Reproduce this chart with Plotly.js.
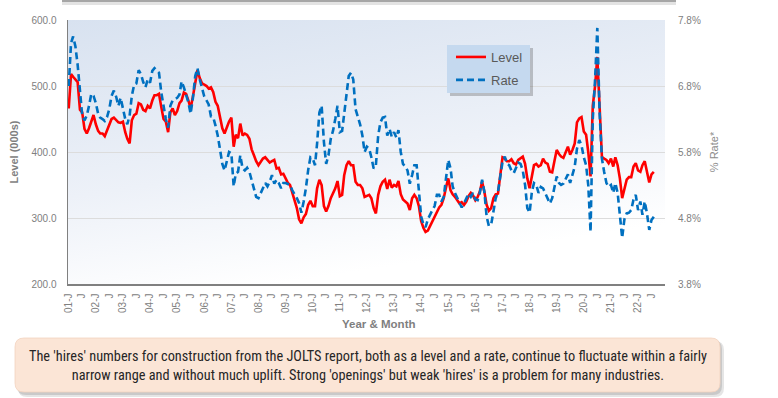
<!DOCTYPE html>
<html><head><meta charset="utf-8">
<script src="https://cdn.plot.ly/plotly-3.0.1.min.js"></script>
<style>html,body{margin:0;padding:0;background:#fff;}#chart{width:778px;height:398px;}</style>
</head><body><div id="chart"></div>
<script>
const startYear = 2001;
const levelValues = [
466,518,514,509,506,464,460,435,428,436,448,456,
442,432,428,428,424,432,442,450,452,448,445,444,
446,430,420,413,448,456,458,474,472,464,462,470,
466,478,486,486,488,468,450,446,430,460,466,456,
462,474,478,490,488,478,466,484,506,524,512,504,
502,500,496,498,491,476,470,452,436,428,438,446,
452,408,426,421,443,425,428,426,420,404,395,386,
380,385,390,392,388,384,386,388,375,376,366,367,
360,353,350,337,326,315,298,292,301,306,320,326,
318,318,345,358,350,318,310,318,330,337,345,356,
333,335,365,380,386,380,380,355,350,350,345,332,
334,335,330,315,307,335,348,355,358,344,358,346,
350,348,356,336,328,325,322,312,330,335,330,318,
295,285,279,281,288,294,302,310,316,320,330,346,
360,342,336,332,326,322,324,320,325,333,338,334,
327,332,340,355,340,320,311,315,330,336,337,365,
392,390,386,386,389,383,381,388,390,393,382,360,
345,362,380,382,378,380,390,384,382,370,369,386,
403,397,393,391,400,408,396,403,413,445,451,453,
431,426,400,363,470,500,544,470,393,390,388,383,
390,378,392,380,360,330,345,358,362,362,378,383,
372,370,380,386,370,354,366,370
];
const rateValues = [
6.80,7.45,7.55,7.40,7.12,6.72,6.36,6.28,6.35,6.50,6.68,6.65,
6.54,6.38,6.32,6.30,6.27,6.33,6.45,6.65,6.73,6.64,6.50,6.62,
6.45,6.30,6.22,6.35,6.65,6.82,6.84,7.04,6.98,6.86,6.78,6.90,
6.85,7.03,7.07,7.04,7.00,6.70,6.48,6.30,6.17,6.50,6.58,6.60,
6.62,6.67,6.87,6.78,6.68,6.55,6.38,6.62,6.95,7.07,6.90,6.75,
6.64,6.58,6.52,6.34,6.33,6.20,6.05,5.84,5.62,5.52,5.65,5.80,
5.78,5.28,5.47,5.50,5.75,5.55,5.52,5.56,5.50,5.38,5.22,5.12,
5.10,5.18,5.27,5.33,5.28,5.35,5.45,5.32,5.38,5.33,5.25,5.33,
5.33,5.32,5.30,5.22,5.17,5.10,5.03,4.88,5.05,5.25,5.53,5.72,
5.70,5.60,5.93,6.40,6.50,5.95,5.62,5.75,6.00,6.12,6.30,6.50,
6.10,6.12,6.38,6.70,6.95,7.00,6.90,6.45,6.33,6.22,6.05,5.80,
5.88,5.85,5.72,5.55,5.60,6.05,6.25,6.32,6.33,6.05,6.15,6.03,
6.10,6.02,6.13,5.80,5.62,5.58,5.52,5.32,5.45,5.60,5.60,5.20,
4.82,4.70,4.66,4.78,4.86,4.92,4.98,5.15,5.15,5.05,5.12,5.45,
5.68,5.55,5.28,5.18,5.10,5.02,4.96,5.02,5.10,5.17,5.12,5.18,
5.08,5.07,5.18,5.38,5.20,4.82,4.68,4.70,4.90,5.10,5.20,5.45,
5.65,5.73,5.62,5.60,5.52,5.48,5.55,5.64,5.62,5.52,5.30,4.95,
4.88,5.20,5.33,5.30,5.18,5.27,5.25,5.17,5.10,5.02,5.10,5.27,
5.43,5.33,5.30,5.32,5.40,5.46,5.33,5.45,5.58,5.85,5.98,5.90,
5.72,5.60,5.30,4.59,6.30,6.90,7.68,6.39,5.70,5.50,5.33,5.27,
5.30,5.18,5.33,5.18,4.88,4.50,4.78,4.87,4.88,4.92,5.08,5.15,
4.92,5.05,4.85,5.05,4.87,4.62,4.77,4.82
];
const tickLabels = [
'01-J','J','02-J','J','03-J','J','04-J','J','05-J','J','06-J','J',
'07-J','J','08-J','J','09-J','J','10-J','J','11-J','J','12-J','J',
'13-J','J','14-J','J','15-J','J','16-J','J','17-J','J','18-J','J',
'19-J','J','20-J','J','21-J','J','22-J','J'
];
const levelTicks = [200, 300, 400, 500, 600];
const rateTicks = [3.8, 4.8, 5.8, 6.8, 7.8];
const xTitle = 'Year & Month';
const caption = "The 'hires' numbers for construction from the JOLTS report, both as a level and a rate, continue to fluctuate within a fairly<br>narrow range and without much uplift. Strong 'openings' but weak 'hires' is a problem for many industries.";

const months = levelValues.map((_, i) => {
  const y = startYear + Math.floor(i / 12), m = i % 12 + 1;
  return y + '-' + String(m).padStart(2, '0') + '-01';
});
const tickDates = tickLabels.map((_, i) => (startYear + Math.floor(i / 2)) + (i % 2 === 0 ? '-01-01' : '-07-01'));

// pixel -> paper helpers (plot area 68..665 x 20..284)
const L = 68, R = 665, T = 20, B = 284;
const px = x => (x - L) / (R - L);
const py = y => (B - y) / (B - T);
function roundRect(x0, y0, x1, y1, r) {
  const p = (x, y) => px(x) + ',' + py(y);
  return 'M' + p(x0 + r, y0) + ' L' + p(x1 - r, y0) + ' Q' + p(x1, y0) + ' ' + p(x1, y0 + r) +
    ' L' + p(x1, y1 - r) + ' Q' + p(x1, y1) + ' ' + p(x1 - r, y1) +
    ' L' + p(x0 + r, y1) + ' Q' + p(x0, y1) + ' ' + p(x0, y1 - r) +
    ' L' + p(x0, y0 + r) + ' Q' + p(x0, y0) + ' ' + p(x0 + r, y0) + ' Z';
}

const svgBg = '<svg xmlns="http://www.w3.org/2000/svg" width="100" height="100" preserveAspectRatio="none"><defs><linearGradient id="g" x1="0" y1="0" x2="0.35" y2="1"><stop offset="0" stop-color="#d8e2f0"/><stop offset="0.6" stop-color="#edf1f8"/><stop offset="1" stop-color="#ffffff"/></linearGradient></defs><rect width="100" height="100" fill="url(#g)"/></svg>';

const font = 'Liberation Sans, Arial, sans-serif';

const traces = [
  { x: months, y: levelValues, name: 'Level', type: 'scatter', mode: 'lines', legendgroup: 'a',
    line: { color: '#ff0000', width: 2.6 }, yaxis: 'y' },
  { x: months, y: rateValues, name: 'Rate', type: 'scatter', mode: 'lines', legendgroup: 'b',
    line: { color: '#0070c0', width: 2.6, dash: '7px,4px' }, yaxis: 'y2' }
];

const layout = {
  width: 778, height: 398,
  margin: { l: L, r: 778 - R, t: T, b: 398 - B, pad: 0 },
  paper_bgcolor: '#ffffff', plot_bgcolor: 'rgba(0,0,0,0)',
  font: { family: font, color: '#808080' },
  showlegend: true,
  legend: { x: px(451), y: py(42), xanchor: 'left', yanchor: 'top', traceorder: 'grouped', tracegroupgap: 3,
    bgcolor: 'rgba(0,0,0,0)', borderwidth: 0, font: { size: 13, color: '#595959', family: font },
    itemwidth: 30 },
  xaxis: { type: 'date', range: ['2000-12-22', '2022-12-30'],
    tickmode: 'array', tickvals: tickDates, ticktext: tickLabels, tickangle: -90,
    tickfont: { size: 10, color: '#808080' }, ticks: 'outside', ticklen: 4, tickcolor: 'rgba(0,0,0,0)',
    showgrid: false, showline: true, linecolor: '#808080', linewidth: 1.5, zeroline: false },
  yaxis: { range: [200, 600], tickmode: 'array', tickvals: levelTicks, tickformat: '.1f',
    tickfont: { size: 10, color: '#808080' }, ticks: 'outside', ticklen: 8, tickcolor: 'rgba(0,0,0,0)',
    showgrid: true, gridcolor: '#dcdcdc', gridwidth: 1, showline: true, linecolor: '#808080', linewidth: 1.5,
    zeroline: false,
    title: { text: '<b>Level (000s)</b>', font: { size: 11, color: '#7f7f7f' }, standoff: 10 } },
  yaxis2: { overlaying: 'y', side: 'right', range: [3.8, 7.8], tickmode: 'array', tickvals: rateTicks,
    ticktext: rateTicks.map(v => v.toFixed(1) + '%'), tickfont: { size: 10, color: '#808080' },
    ticks: 'outside', ticklen: 10, tickcolor: 'rgba(0,0,0,0)', showgrid: false, showline: false, zeroline: false,
    title: { text: '% Rate*', font: { size: 11, color: '#8c8c8c' }, standoff: 10 } },
  images: [{ source: 'data:image/svg+xml;base64,' + btoa(svgBg), xref: 'paper', yref: 'paper',
    x: 0, y: 1, sizex: 1, sizey: 1, xanchor: 'left', yanchor: 'top', sizing: 'stretch', layer: 'below' }],
  shapes: [
    // top box remnant
    { type: 'line', xref: 'paper', yref: 'paper', x0: px(62), x1: px(676), y0: py(3.5), y1: py(3.5),
      line: { color: '#e3e3e3', width: 3 } },
    { type: 'line', xref: 'paper', yref: 'paper', x0: px(62), x1: px(676), y0: py(1), y1: py(1),
      line: { color: '#a6a6a6', width: 2 } },
    // legend shadow + box
    { type: 'rect', xref: 'paper', yref: 'paper', x0: px(450), x1: px(533), y0: py(48), y1: py(96),
      fillcolor: 'rgba(60,60,60,0.28)', line: { width: 0 }, layer: 'above' },
    { type: 'rect', xref: 'paper', yref: 'paper', x0: px(447), x1: px(530), y0: py(45), y1: py(93),
      fillcolor: '#c5d9ef', line: { width: 0 }, layer: 'above' },
    // caption box shadow + box
    { type: 'path', xref: 'paper', yref: 'paper', path: roundRect(18, 341, 724, 397, 9),
      fillcolor: 'rgba(0,0,0,0.10)', line: { width: 0 } },
    { type: 'path', xref: 'paper', yref: 'paper', path: roundRect(17, 340, 722, 395, 9),
      fillcolor: 'rgba(0,0,0,0.12)', line: { width: 0 } },
    { type: 'path', xref: 'paper', yref: 'paper', path: roundRect(15, 338, 720, 392, 9),
      fillcolor: '#fbe5d6', line: { color: '#f2d3bf', width: 0.8 } }
  ],
  annotations: [
    { xref: 'paper', yref: 'paper', x: px(378), y: py(324), xanchor: 'center', yanchor: 'middle',
      text: '<b>' + xTitle.replace('&', '&amp;') + '</b>', showarrow: false,
      font: { size: 11.5, color: '#7f7f7f', family: font } },
    { xref: 'paper', yref: 'paper', x: px(368), y: py(365), xanchor: 'center', yanchor: 'middle',
      text: caption, showarrow: false, align: 'center',
      font: { family: 'Roboto Condensed, Liberation Sans Narrow, Arial Narrow, sans-serif', size: 14.3, color: '#262626' } }
  ]
};

Plotly.newPlot('chart', traces, layout, { staticPlot: true, displayModeBar: false });
</script></body></html>
